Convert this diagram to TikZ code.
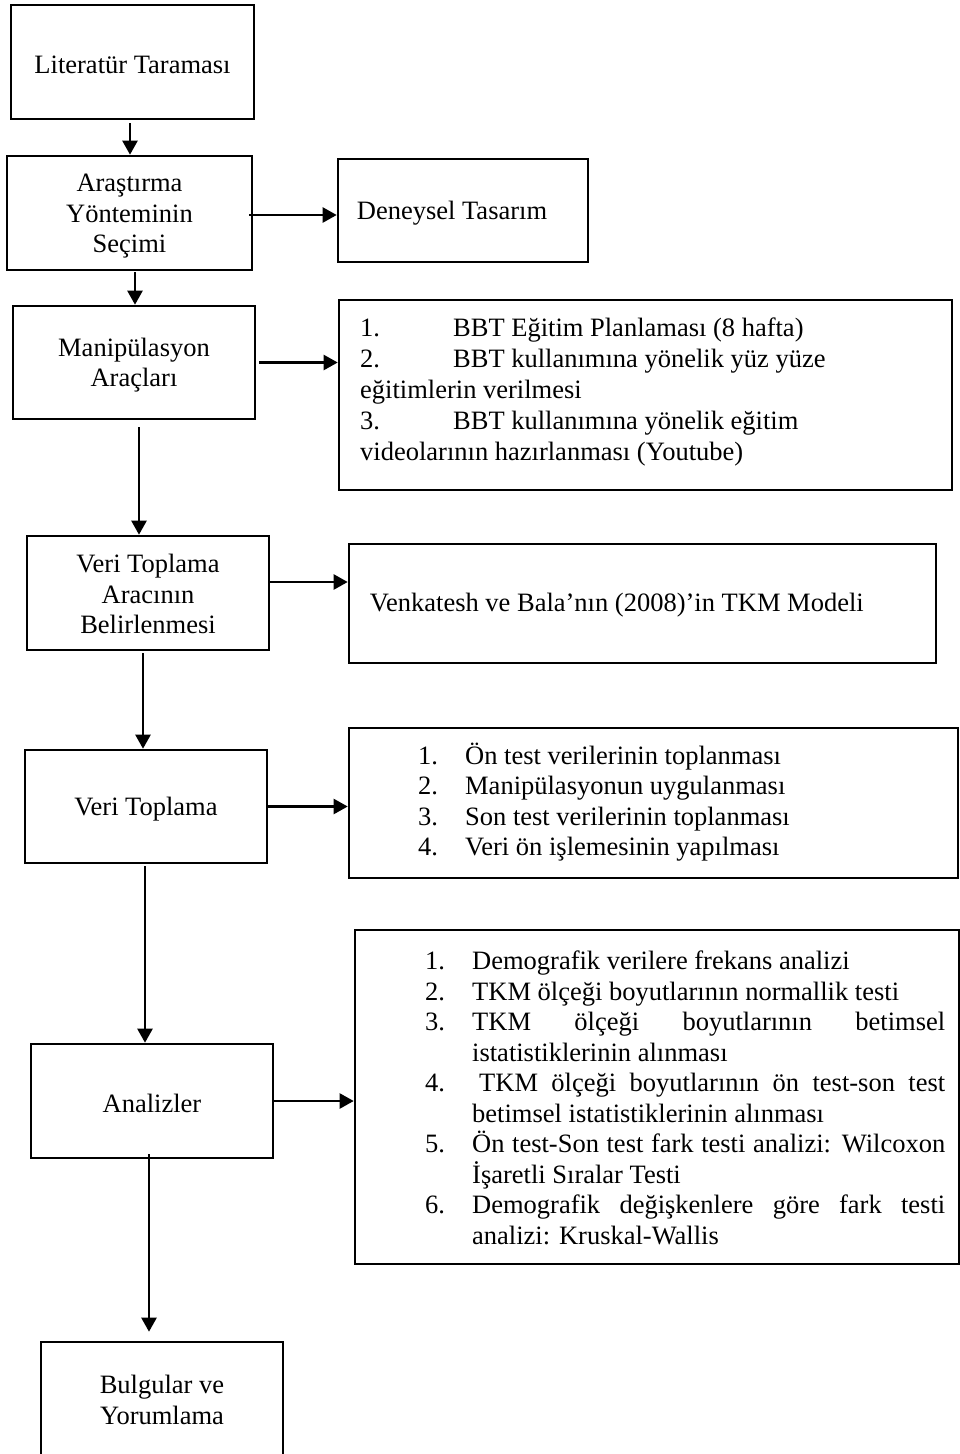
\documentclass[tikz,border=0pt]{standalone}
\usepackage{fontspec}
\setmainfont{Liberation Serif}
\usetikzlibrary{arrows.meta}
\newcommand\boxfont{\fontsize{26.5pt}{30.5pt}\selectfont}
% taller first line, lowers a centred text block slightly
\newcommand\firstline{\rule{0pt}{24pt}}
\tikzset{
  box/.style={draw, line width=2.6pt, rectangle, inner sep=0pt, align=center, font=\boxfont},
  frame/.style={draw, line width=2.6pt, rectangle, inner sep=0pt},
  arr/.style={line width=2.3pt, -{Triangle[length=14pt,width=15pt]}},
  txt/.style={inner sep=0pt, font=\boxfont},
}
\begin{document}
\begin{tikzpicture}[x=1pt, y=-1pt]
  \fill[white] (0,0) rectangle (960,1454);
  \useasboundingbox (0,0) rectangle (960,1454);

  % main column
  \node[box, minimum width=243pt, minimum height=114pt] (lit) at (132.5,62) {\firstline Literatür Taraması};
  \node[box, minimum width=245pt, minimum height=114pt] (ara) at (129.5,213) {\firstline Araştırma\\Yönteminin\\Seçimi};
  \node[box, minimum width=242pt, minimum height=113pt] (man) at (134,362.5) {\firstline Manipülasyon\\Araçları};
  \node[box, minimum width=242pt, minimum height=114pt] (vta) at (148,593) {\rule{0pt}{21pt}Veri Toplama\\Aracının\\Belirlenmesi};
  \node[box, minimum width=242pt, minimum height=113pt] (vt) at (146,806.5) {\firstline Veri Toplama};
  \node[box, minimum width=242pt, minimum height=114pt] (ana) at (152,1101) {\firstline Analizler};
  \node[box, minimum width=242pt, minimum height=116pt] (bul) at (162,1400) {Bulgular ve\\Yorumlama};

  % side boxes
  \node[frame, minimum width=250pt, minimum height=103pt] (den) at (463,210.5) {};
  \node[txt, anchor=west] (dent) at ([xshift=20pt,yshift=-2.5pt]den.west) {Deneysel Tasarım};

  \node[frame, minimum width=613pt, minimum height=190pt] (lst1) at (645.5,395) {};
  \node[txt, anchor=base west] (lst1t) at (360,336) {\parbox[t]{580pt}{\fontsize{26.5pt}{31pt}\selectfont\raggedright
    \makebox[93pt][l]{1.}BBT Eğitim Planlaması (8 hafta)\\
    \makebox[93pt][l]{2.}BBT kullanımına yönelik yüz yüze\\
    eğitimlerin verilmesi\\
    \makebox[93pt][l]{3.}BBT kullanımına yönelik eğitim\\
    videolarının hazırlanması (Youtube)}};

  \node[frame, minimum width=587pt, minimum height=119pt] (ven) at (642.5,603.5) {};
  \node[txt, anchor=west] (vent) at ([xshift=22pt,yshift=-1.5pt]ven.west) {Venkatesh ve Bala’nın (2008)’in TKM Modeli};

  \node[frame, minimum width=609pt, minimum height=150pt] (lst2) at (653.5,803) {};
  \node[txt, anchor=base west] (lst2t) at (418,764) {\parbox[t]{520pt}{\boxfont\raggedright
    \makebox[47pt][l]{1.}Ön test verilerinin toplanması\\
    \makebox[47pt][l]{2.}Manipülasyonun uygulanması\\
    \makebox[47pt][l]{3.}Son test verilerinin toplanması\\
    \makebox[47pt][l]{4.}Veri ön işlemesinin yapılması}};

  \node[frame, minimum width=604pt, minimum height=334pt] (lst3) at (657,1097) {};
  \node[txt, anchor=base west] (lst3t) at (425,969.5) {\parbox[t]{540pt}{\boxfont\raggedright
    \makebox[47pt][l]{1.}Demografik verilere frekans analizi\\
    \makebox[47pt][l]{2.}TKM ölçeği boyutlarının normallik testi\\
    \makebox[47pt][l]{3.}\makebox[473pt][s]{TKM ölçeği boyutlarının betimsel}\\
    \hspace*{47pt}istatistiklerinin alınması\\
    \makebox[47pt][l]{4.}\makebox[473pt][s]{\hspace*{7pt}TKM ölçeği boyutlarının ön test-son test}\\
    \hspace*{47pt}betimsel istatistiklerinin alınması\\
    \makebox[47pt][l]{5.}\makebox[473pt][s]{Ön test-Son test fark testi analizi: Wilcoxon}\\
    \hspace*{47pt}İşaretli Sıralar Testi\\
    \makebox[47pt][l]{6.}\makebox[473pt][s]{Demografik değişkenlere göre fark testi}\\
    \hspace*{47pt}analizi: Kruskal-Wallis}};

  % vertical flow
  \draw[arr] ([xshift=-2.5pt,yshift=-3pt]lit.south) -- ([xshift=0.5pt]ara.north);
  \draw[arr] ([xshift=5.5pt,yshift=-1pt]ara.south) -- ([xshift=1pt]man.north);
  \draw[arr] ([xshift=5pt,yshift=-7pt]man.south) -- ([xshift=-9pt]vta.north);
  \draw[arr] ([xshift=-5pt,yshift=-2pt]vta.south) -- ([xshift=-3pt]vt.north);
  \draw[arr] ([xshift=-1pt,yshift=-2pt]vt.south) -- ([xshift=-7pt]ana.north);
  \draw[arr] ([xshift=-3pt,yshift=5pt]ana.south) -- ([xshift=-13pt,yshift=9pt]bul.north);

  % side links
  \draw[arr] ([xshift=-4pt,yshift=-2pt]ara.east) -- ([yshift=-4.5pt]den.west);
  \draw[arr] ([xshift=3pt]man.east) -- (man.east -| lst1.west);
  \draw[arr] ([xshift=-1pt,yshift=11pt]vta.east) -- ([yshift=21.5pt]ven.west);
  \draw[arr] ([xshift=-1pt]vt.east) -- (vt.east -| lst2.west);
  \draw[arr] ([xshift=-1pt]ana.east) -- (ana.east -| lst3.west);
\end{tikzpicture}
\end{document}
